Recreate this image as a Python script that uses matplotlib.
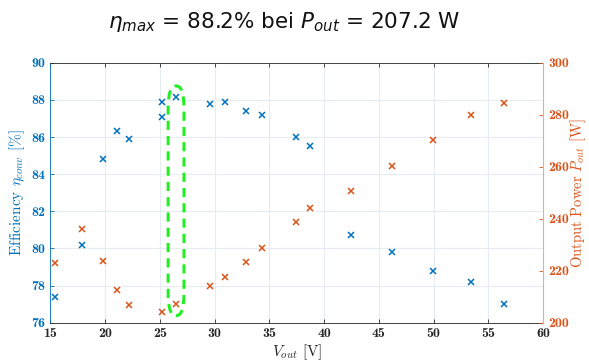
import matplotlib
matplotlib.use("Agg")
import matplotlib.pyplot as plt
from matplotlib.patches import FancyBboxPatch

v_eta = [15.4, 17.9, 19.8, 21.1, 22.2, 25.2, 25.2, 26.5, 29.6, 30.9, 32.9, 34.3, 37.4, 38.7, 42.45, 46.2, 49.9, 53.4, 56.4]
eta = [77.4, 80.2, 84.8, 86.3, 85.9, 87.9, 87.1, 88.15, 87.8, 87.9, 87.4, 87.2, 86.0, 85.5, 80.75, 79.8, 78.8, 78.2, 77.0]
v_p = [15.4, 17.9, 19.8, 21.1, 22.2, 25.2, 26.5, 29.6, 30.9, 32.9, 34.3, 37.4, 38.7, 42.45, 46.2, 49.9, 53.4, 56.4]
p_out = [222.8, 236.2, 223.7, 212.7, 206.8, 204.2, 207.2, 214.0, 217.7, 223.2, 228.7, 238.9, 244.3, 250.8, 260.4, 270.3, 280.0, 284.6]
xticks = [15, 20, 25, 30, 35, 40, 45, 50, 55, 60]
yticks_l = [76, 78, 80, 82, 84, 86, 88, 90]
yticks_r = [200, 220, 240, 260, 280, 300]
highlight = (25.75, 76.38, 27.2, 88.75)

blue = "#0072BD"
orange = "#D95319"

plt.rcParams['mathtext.fontset'] = 'cm'
plt.rcParams['font.family'] = ['cmr10', 'DejaVu Serif']
plt.rcParams['axes.formatter.use_mathtext'] = True

fig = plt.figure(figsize=(5.89, 3.63), dpi=100)
ax = fig.add_axes([0.0857, 0.111, 0.922 - 0.0857, 0.827 - 0.111])
ax2 = ax.twinx()

ax.plot(v_eta, eta, linestyle='none', marker='x', color=blue, markersize=5, mew=1.1, zorder=3)
ax2.plot(v_p, p_out, linestyle='none', marker='x', color=orange, markersize=5, mew=1.1, zorder=3)

ax.set_xlim(15, 60)
ax.set_ylim(76, 90)
ax2.set_ylim(200, 300)
ax.set_xticks(xticks)
ax.set_yticks(yticks_l)
ax2.set_yticks(yticks_r)
ax.set_xticklabels([str(v) for v in xticks], fontfamily='cmb10')
ax.set_yticklabels([str(v) for v in yticks_l], fontfamily='cmb10')
ax2.set_yticklabels([str(v) for v in yticks_r], fontfamily='cmb10')

ax.grid(True, color="#e6ecf2", linewidth=0.8)
ax.set_axisbelow(True)

for a in (ax, ax2):
    a.tick_params(direction='in', length=3, width=0.6, labelsize=10)
ax.tick_params(axis='x', colors='#262626', top=True)
ax.tick_params(axis='y', colors=blue)
ax2.tick_params(axis='y', colors=orange)

ax.spines['left'].set_color(blue)
ax.spines['bottom'].set_color('#262626')
ax.spines['top'].set_color('#262626')
ax.spines['right'].set_visible(False)
ax2.spines['left'].set_visible(False)
ax2.spines['top'].set_visible(False)
ax2.spines['bottom'].set_visible(False)
ax2.spines['right'].set_color('#f3a98a')
for s in ('left', 'bottom', 'top'):
    ax.spines[s].set_linewidth(0.6)
ax2.spines['right'].set_linewidth(0.8)

ax.set_ylabel(r'Efficiency $\eta_{conv}$ [%]', color=blue, fontsize=11, labelpad=3)
ax2.set_ylabel(r'Output Power $P_{out}$ [W]', color=orange, fontsize=10.5, labelpad=0)
ax.set_xlabel(r'$V_{out}$ [V]', color='#262626', fontsize=11, labelpad=2)

x0, y0, x1, y1 = highlight
box = FancyBboxPatch((x0, y0), x1 - x0, y1 - y0,
                     boxstyle="round,pad=0,rounding_size=0.7",
                     mutation_aspect=1.69,
                     fill=False, edgecolor='#22ee22', linewidth=2.2,
                     linestyle=(0, (3, 2)), zorder=4, clip_on=False)
ax.add_patch(box)

fig.text(0.483, 0.94, r'$\eta_{max}$ = 88.2% bei $P_{out}$ = 207.2 W',
         ha='center', va='center', fontsize=15.5, family='DejaVu Sans',
         math_fontfamily='dejavusans', color='#111111')

fig.savefig("out.png", dpi=100)
